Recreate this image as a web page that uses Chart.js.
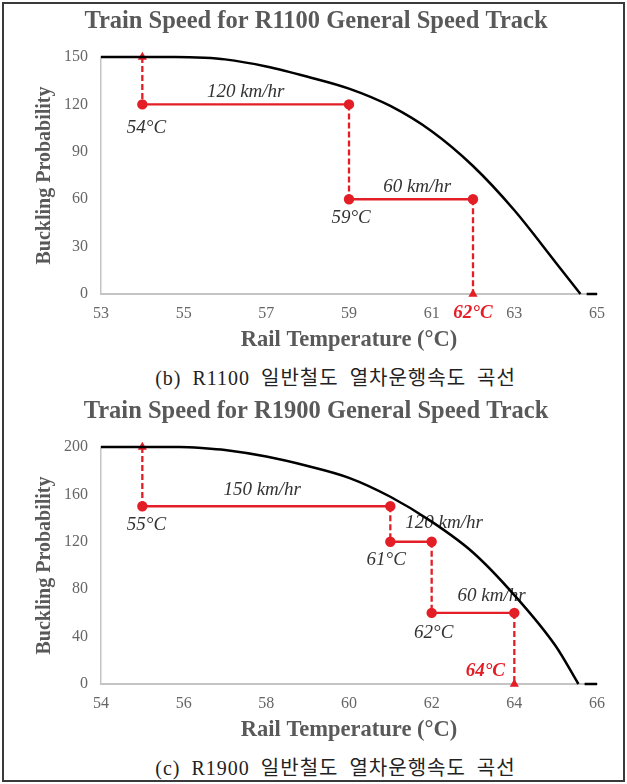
<!DOCTYPE html>
<html>
<head>
<meta charset="utf-8">
<script src="https://cdn.jsdelivr.net/npm/chart.js@4.4.1/dist/chart.umd.min.js"></script>
<style>
  body { margin: 0; background: #fff; }
  #page { position: relative; width: 627px; height: 784px; overflow: hidden; background: #fff; }
  #frame { position: absolute; left: 2px; top: 2px; width: 619px; height: 776px; border: 2px solid #3a3a3a; }
  canvas { position: absolute; left: 0; }
  .caption { position: absolute; left: 22px; width: 627px; text-align: center;
             font-family: "Liberation Serif", "Noto Sans CJK KR"; font-size: 20px; line-height: 24px;
             letter-spacing: 1px; word-spacing: 5px; color: #222; }
</style>
</head>
<body>
<div id="page">
  <div id="frame"></div>
  <canvas id="r1100" width="627" height="362" style="top:0"></canvas>
  <div class="caption" style="top:366px">(b) R1100 일반철도 열차운행속도 곡선</div>
  <canvas id="r1900" width="627" height="362" style="top:390px"></canvas>
  <div class="caption" style="top:756px">(c) R1900 일반철도 열차운행속도 곡선</div>
</div>
<script>
const serif = "'Liberation Serif', 'Times New Roman', serif";
const grey = '#595959';
const red = '#e31e26';
const ink = '#333333';

// R1100 general speed track
const temp1 = [53, 54, 54.8, 55.5, 56, 57, 58, 59, 60, 61, 62, 63, 64, 64.6];
const prob1 = [150, 150, 150, 149.5, 148.5, 144, 137.5, 130, 119, 103, 81, 53, 20, 0];
const tailTemp1 = [64.75, 65];
const xTicks1 = [53, 55, 57, 59, 61, 63, 65];
const stepTemp1 = [54, 59, 62];
const stepProb1 = [150, 120, 60, 0];
const speedText1 = ['120 km/hr', '60 km/hr'];
const tempText1 = ['54°C', '59°C', '62°C'];

// R1900 general speed track
const temp2 = [54, 55, 55.9, 56.5, 57, 58, 59, 60, 61, 62, 63, 64, 65, 65.55];
const prob2 = [200, 200, 200, 199, 197.5, 192, 184, 174, 158, 137, 111, 75, 32, 0];
const tailTemp2 = [65.7, 66];
const xTicks2 = [54, 56, 58, 60, 62, 64, 66];
const stepTemp2 = [55, 61, 62, 64];
const stepProb2 = [200, 150, 120, 60, 0];
const speedText2 = ['150 km/hr', '120 km/hr', '60 km/hr'];
const tempText2 = ['55°C', '61°C', '62°C', '64°C'];

const noteFont = 'italic 19px ' + serif;
const hotFont = 'italic bold 19px ' + serif;

function stepSets(temps, probs) {
  const sets = [];
  temps.forEach((t, i) => {
    const first = i === 0, last = i === temps.length - 1;
    sets.push({
      data: [{x: t, y: probs[i]}, {x: t, y: probs[i + 1]}],
      showLine: true, borderColor: red, backgroundColor: red, borderWidth: 2.3,
      borderDash: [6, 3], pointStyle: 'triangle',
      pointRadius: [first ? 3 : 0, last ? 3 : 0], clip: false
    });
    if (!last) {
      sets.push({
        data: [{x: t, y: probs[i + 1]}, {x: temps[i + 1], y: probs[i + 1]}],
        showLine: true, borderColor: red, backgroundColor: red, borderWidth: 2.4,
        pointRadius: 4, clip: false
      });
    }
  });
  return sets;
}

function makeChart(id, o) {
  const notes = {
    id: 'notes',
    beforeDatasetsDraw(chart) {
      const {ctx, scales: {x, y}} = chart;
      ctx.save();
      ctx.textAlign = 'center';
      ctx.textBaseline = 'middle';
      ctx.fillStyle = grey;
      ctx.font = 'bold 24.5px ' + serif;
      ctx.fillText(o.title, 316, 22);
      o.notes.forEach(n => {
        ctx.font = n.hot ? hotFont : noteFont;
        ctx.fillStyle = n.hot ? red : ink;
        ctx.fillText(n.text, x.getPixelForValue(n.x), y.getPixelForValue(n.y));
      });
      ctx.restore();
    }
  };
  const curve = o.temps.map((t, i) => ({x: t, y: o.probs[i]}));
  const tail = o.tail.map(t => ({x: t, y: 0}));
  new Chart(document.getElementById(id), {
    type: 'scatter',
    data: {
      datasets: [
        {data: curve, showLine: true, borderColor: '#000', borderWidth: 2.5, pointRadius: 0,
         cubicInterpolationMode: 'monotone', clip: false},
        {data: tail, showLine: true, borderColor: '#000', borderWidth: 2.5, pointRadius: 0, clip: false},
        ...stepSets(o.stepTemp, o.stepProb)
      ]
    },
    options: {
      responsive: false,
      animation: false,
      layout: {padding: {left: 0, right: 30, top: 57, bottom: 0}},
      plugins: {
        legend: {display: false},
        tooltip: {enabled: false},
        title: {display: false}
      },
      scales: {
        x: {
          type: 'linear', min: o.xTicks[0], max: o.xTicks[o.xTicks.length - 1],
          afterBuildTicks: s => { s.ticks = o.xTicks.map(v => ({value: v})); },
          afterFit: s => { s.height = 68; },
          grid: {display: false, drawTicks: false},
          border: {display: true, color: '#c4c4c4', width: 2},
          ticks: {color: '#666', font: {family: serif, size: 16}, padding: 10},
          title: {display: true, text: 'Rail Temperature (°C)', color: grey,
                  font: {family: serif, size: 22.5, weight: 'bold'}, padding: {top: 0, bottom: 8}}
        },
        y: {
          min: 0, max: o.yMax,
          afterFit: s => { s.width = 101; },
          grid: {display: false, drawTicks: false},
          border: {display: true, color: '#c4c4c4', width: 1.5},
          ticks: {stepSize: o.yStep, color: '#666', font: {family: serif, size: 16}, padding: 13},
          title: {display: true, text: 'Buckling Probability', color: grey,
                  font: {family: serif, size: 20, weight: 'bold'}, padding: {top: 33, bottom: 0}}
        }
      }
    },
    plugins: [notes]
  });
}

makeChart('r1100', {
  title: 'Train Speed for R1100 General Speed Track',
  temps: temp1, probs: prob1, tail: tailTemp1, xTicks: xTicks1,
  yMax: 150, yStep: 30, stepTemp: stepTemp1, stepProb: stepProb1,
  notes: [
    {text: speedText1[0], x: 56.5, y: 128},
    {text: speedText1[1], x: 60.65, y: 68},
    {text: tempText1[0], x: 54.1, y: 105},
    {text: tempText1[1], x: 59.05, y: 48},
    {text: tempText1[2], x: 62, y: -12, hot: true}
  ]
});

makeChart('r1900', {
  title: 'Train Speed for R1900 General Speed Track',
  temps: temp2, probs: prob2, tail: tailTemp2, xTicks: xTicks2,
  yMax: 200, yStep: 40, stepTemp: stepTemp2, stepProb: stepProb2,
  notes: [
    {text: speedText2[0], x: 57.9, y: 164},
    {text: speedText2[1], x: 62.3, y: 136},
    {text: speedText2[2], x: 63.45, y: 74},
    {text: tempText2[0], x: 55.1, y: 134},
    {text: tempText2[1], x: 60.9, y: 105},
    {text: tempText2[2], x: 62.05, y: 43},
    {text: tempText2[3], x: 63.3, y: 11, hot: true}
  ]
});
</script>
</body>
</html>
